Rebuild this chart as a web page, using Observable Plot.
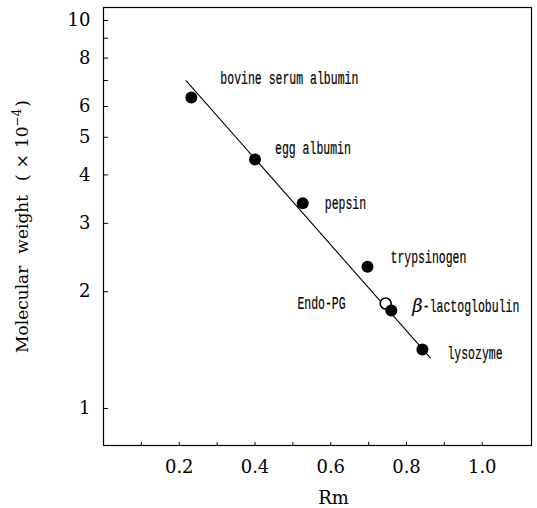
<!DOCTYPE html>
<html><head><meta charset="utf-8">
<script src="https://cdn.jsdelivr.net/npm/d3@7"></script>
<script src="https://cdn.jsdelivr.net/npm/@observablehq/plot@0.6"></script>
<style>body{margin:0;background:#fff}</style>
</head><body><div id="chart"></div>
<script>
// Marker proteins
const proteins = ["bovine serum albumin", "egg albumin", "pepsin", "trypsinogen", "β-lactoglobulin", "lysozyme"];
const proteinRm = [0.232, 0.400, 0.526, 0.697, 0.760, 0.842];
const proteinMw = [6.33, 4.38, 3.38, 2.32, 1.79, 1.42];
// Sample (open circle)
const sampleNames = ["Endo-PG"];
const sampleRm = [0.745];
const sampleMw = [1.865];
// Calibration line end points
const fitRm = [0.218, 0.863];
const fitMw = [7.0, 1.35];
// Ticks
const xTicks = [0.1, 0.2, 0.3, 0.4, 0.5, 0.6, 0.7, 0.8, 0.9, 1.0];
const xTickLabels = [0.2, 0.4, 0.6, 0.8, 1.0];
const yTicks = [1, 2, 3, 4, 5, 6, 7, 8, 9, 10];
const yTickLabels = [1, 2, 3, 4, 5, 6, 8, 10];
const xLabel = "Rm";
const yLabel = "Molecular weight (×10⁻⁴)";

// Layout of the point labels (offsets in pixels)
const labelLayout = {
  "bovine serum albumin": {dx: 29, dy: -19, anchor: "start"},
  "egg albumin": {dx: 20, dy: -11, anchor: "start"},
  "pepsin": {dx: 22, dy: 0, anchor: "start"},
  "trypsinogen": {dx: 23, dy: -9, anchor: "start"},
  "β-lactoglobulin": {dx: 21, dy: -4, anchor: "start"},
  "lysozyme": {dx: 25, dy: 4, anchor: "start"},
  "Endo-PG": {dx: -40, dy: 0, anchor: "end"}
};
const labelFont = "'Liberation Mono', 'DejaVu Sans Mono', monospace";
const labelCharWidth = 6.9;

const points = proteins.map((name, i) => ({name, rm: proteinRm[i], mw: proteinMw[i]}));
const samples = sampleNames.map((name, i) => ({name, rm: sampleRm[i], mw: sampleMw[i]}));
const fit = fitRm.map((rm, i) => ({rm, mw: fitMw[i]}));

const labelMarks = [...points, ...samples].map(d => {
  const L = labelLayout[d.name];
  return Plot.text([d], {x: "rm", y: "mw", text: "name", dx: L.dx, dy: L.dy,
    textAnchor: L.anchor, fontFamily: labelFont, fontSize: 18, fill: "black",
    stroke: "black", strokeWidth: 0.2, className: "ptlabel"});
});

const plot = Plot.plot({
  width: 537,
  height: 508,
  marginLeft: 103,
  marginRight: 6,
  marginTop: 7,
  marginBottom: 63,
  style: {fontFamily: "'DejaVu Serif', serif", fontSize: "18px", color: "black", background: "white"},
  x: {domain: [0, 1.13]},
  y: {type: "log", domain: [0.803, 10.8]},
  marks: [
    Plot.frame({stroke: "black", strokeWidth: 1.2}),
    Plot.axisY(yTickLabels, {anchor: "left", tickSize: 0, tickPadding: 13, label: null, fontSize: 18, tickFormat: d => String(d)}),
    Plot.axisY(yTicks, {anchor: "right", frameAnchor: "left", tickSize: 4, tickFormat: () => "", label: null}),
    Plot.axisX(xTickLabels, {anchor: "bottom", tickSize: 0, tickPadding: 15, label: null, fontSize: 18, tickFormat: d => d.toFixed(1)}),
    Plot.axisX(xTicks, {anchor: "top", frameAnchor: "bottom", tickSize: 4, tickFormat: () => "", label: null}),
    Plot.text([yLabel], {frameAnchor: "left", textAnchor: "middle", lineAnchor: "middle", rotate: -90, dx: -81, fontSize: 17, fill: "black", className: "ylabel"}),
    Plot.text([xLabel], {frameAnchor: "bottom", textAnchor: "middle", lineAnchor: "middle", dx: 16, dy: 53, fontSize: 18, fill: "black"}),
    Plot.line(fit, {x: "rm", y: "mw", stroke: "black", strokeWidth: 1.1}),
    Plot.dot(samples, {x: "rm", y: "mw", r: 5.5, fill: "white", stroke: "black", strokeWidth: 1.6}),
    Plot.dot(points, {x: "rm", y: "mw", r: 6, fill: "black"}),
    ...labelMarks
  ]
});

const ns = "http://www.w3.org/2000/svg";
function tspan(text, attrs = {}) {
  const e = document.createElementNS(ns, "tspan");
  for (const [k, v] of Object.entries(attrs)) e.setAttribute(k, v);
  e.textContent = text;
  return e;
}
// condensed point labels, italic serif beta
plot.querySelectorAll(".ptlabel text").forEach(t => {
  const s = t.textContent;
  if (s.startsWith("β-")) {
    const rest = s.slice(1);
    t.textContent = "";
    t.appendChild(tspan("β", {"font-family": "'DejaVu Serif', serif", "font-style": "italic", "font-size": "18", "stroke-width": "0.1"}));
    t.appendChild(tspan(rest, {"textLength": (rest.length * labelCharWidth).toFixed(1), "lengthAdjust": "spacingAndGlyphs"}));
  } else {
    t.setAttribute("textLength", (s.length * labelCharWidth).toFixed(1));
    t.setAttribute("lengthAdjust", "spacingAndGlyphs");
  }
});
// y label with spaced words and a real superscript
plot.querySelectorAll(".ylabel text").forEach(t => {
  t.textContent = "";
  t.appendChild(tspan("Molecular"));
  t.appendChild(tspan("weight", {dx: "12"}));
  t.appendChild(tspan("(", {dx: "14"}));
  t.appendChild(tspan("×", {dx: "6"}));
  t.appendChild(tspan("10", {dx: "6"}));
  t.appendChild(tspan("−4", {"font-size": "12", dy: "-7"}));
  t.appendChild(tspan(")", {dy: "7", dx: "2"}));
});
document.getElementById("chart").appendChild(plot);
</script>
</body></html>
